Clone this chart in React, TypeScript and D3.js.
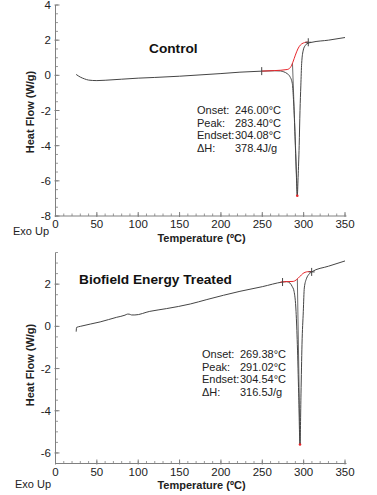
import React from "react";
import * as d3 from "d3";

// ---- Data ----
const xTicks = [0, 50, 100, 150, 200, 250, 300, 350];

const controlYTicks = [-8, -6, -4, -2, 0, 2, 4];
const treatedYTicks = [-6, -4, -2, 0, 2];

const controlTemp = [25, 30, 35, 40, 50, 60, 80, 100, 120, 150, 200, 223, 250, 265, 272, 276, 280, 283.5, 286.3, 287.5, 288.4, 290, 291.3, 292.3, 293.3, 294.6, 295.6, 296.6, 297.6, 299.6, 302, 304, 310, 330, 350];
const controlFlow = [0.05, -0.1, -0.2, -0.27, -0.3, -0.28, -0.22, -0.16, -0.12, -0.05, 0.1, 0.18, 0.24, 0.26, 0.25, 0.2, 0.1, -0.08, -0.46, -1.2, -2, -4, -5.8, -6.85, -5.8, -4, -2, -0.6, 0.68, 1.44, 1.7, 1.8, 1.88, 2.0, 2.15];

const controlBaseTemp = [249, 265, 280, 284, 287, 290, 293, 296, 298, 301, 305];
const controlBaseFlow = [0.24, 0.27, 0.33, 0.45, 0.75, 1.15, 1.5, 1.72, 1.8, 1.86, 1.9];

const controlPeakLineTemp = [286.5, 292.3];
const controlPeakLineFlow = [0.7, -6.85];

const controlOnset = { temp: 249.3, flow: 0.24 };
const controlEndset = { temp: 305.6, flow: 1.88 };

const treatedTemp = [25, 25.5, 30, 54, 74, 84, 87, 89, 92, 96, 114, 134, 163, 183, 223, 250, 274.7, 279.5, 283.5, 286, 288.4, 290.8, 292.4, 294, 295.6, 296.8, 298, 299.6, 300.8, 303.7, 306, 309.7, 330, 350];
const treatedFlow = [-0.25, -0.05, 0, 0.21, 0.43, 0.53, 0.58, 0.58, 0.54, 0.54, 0.71, 0.84, 1.06, 1.27, 1.66, 1.88, 2.1, 2.12, 2.05, 1.9, 1.66, 0.71, -0.87, -3.2, -5.6, -3.2, -0.87, 0.71, 1.82, 2.29, 2.45, 2.58, 2.85, 3.1];

const treatedBaseTemp = [272, 280, 287.5, 291, 295.6, 299, 301.7, 305, 309.7];
const treatedBaseFlow = [2.1, 2.12, 2.13, 2.2, 2.37, 2.5, 2.56, 2.59, 2.6];

const treatedPeakLineTemp = [292.4, 295.6];
const treatedPeakLineFlow = [2.25, -5.6];

const treatedOnset = { temp: 274.5, flow: 2.1 };
const treatedEndset = { temp: 309.7, flow: 2.58 };

const statLabels = ["Onset:", "Peak:", "Endset:", "\u0394H:"];
const controlStats = ["246.00\u00B0C", "283.40\u00B0C", "304.08\u00B0C", "378.4J/g"];
const treatedStats = ["269.38\u00B0C", "291.02\u00B0C", "304.54\u00B0C", "316.5J/g"];

const FONT = "'Liberation Sans', Arial, Helvetica, sans-serif";
const AXIS = "#808080";
const TEXT = "#222";
const CURVE = "#454545";
const RED = "#e8262b";

type PanelProps = {
  top: number;
  bottom: number;
  yDomain: [number, number];
  yTicks: number[];
  temp: number[];
  flow: number[];
  baseTemp: number[];
  baseFlow: number[];
  peakTemp: number[];
  peakFlow: number[];
  onset: { temp: number; flow: number };
  endset: { temp: number; flow: number };
  title: string;
  titleX: number;
  titleY: number;
  stats: string[];
  statX: number;
  valX: number;
  statY: number;
  xLabelY: number;
  xTitleY: number;
  yTitleY: number;
  exoY: number;
  exoX: number;
};

function Panel(p: PanelProps) {
  const x = d3.scaleLinear().domain([0, 350]).range([55.5, 345]);
  const y = d3.scaleLinear().domain(p.yDomain).range([p.bottom, p.top]);
  const axisX = 55.5;

  const line = d3
    .line<[number, number]>()
    .x((d) => x(d[0]))
    .y((d) => y(d[1]))
    .curve(d3.curveMonotoneX);

  const curvePts = p.temp.map((t, i) => [t, p.flow[i]] as [number, number]);
  const basePts = p.baseTemp.map((t, i) => [t, p.baseFlow[i]] as [number, number]);
  const peakPts = p.peakTemp.map((t, i) => [t, p.peakFlow[i]] as [number, number]);

  const minorY = d3.range(p.yDomain[0], p.yDomain[1] + 0.001, 0.5);
  const minorX = d3.range(0, 351, 10);
  const peakIdx = d3.minIndex(p.flow);

  return (
    <g>
      {/* axes */}
      <line x1={axisX} x2={axisX} y1={p.top} y2={p.bottom} stroke={AXIS} strokeWidth={1} />
      <line x1={axisX} x2={x(350) + 1.5} y1={p.bottom} y2={p.bottom} stroke={AXIS} strokeWidth={1} />
      {minorY.map((v, i) => (
        <line key={"my" + i} x1={axisX} x2={axisX + 2.5} y1={y(v)} y2={y(v)} stroke={AXIS} strokeWidth={0.8} />
      ))}
      {p.yTicks.map((v) => (
        <g key={"yt" + v}>
          <line x1={axisX - 1} x2={axisX + 4} y1={y(v)} y2={y(v)} stroke={AXIS} strokeWidth={1} />
          <text x={51} y={y(v) + 4} textAnchor="end" fontSize={11.5} fill={TEXT} fontFamily={FONT}>
            {v}
          </text>
        </g>
      ))}
      {minorX.map((v, i) => (
        <line key={"mx" + i} x1={x(v)} x2={x(v)} y1={p.bottom} y2={p.bottom - 2.5} stroke={AXIS} strokeWidth={0.8} />
      ))}
      {xTicks.map((v) => (
        <g key={"xt" + v}>
          <line x1={x(v)} x2={x(v)} y1={p.bottom + 1} y2={p.bottom - 4} stroke={AXIS} strokeWidth={1} />
          <text x={x(v)} y={p.xLabelY} textAnchor="middle" fontSize={11.5} fill={TEXT} fontFamily={FONT}>
            {v}
          </text>
        </g>
      ))}

      {/* axis titles */}
      <text
        transform={`translate(34,${p.yTitleY}) rotate(-90)`}
        textAnchor="middle"
        fontSize={11}
        fontWeight="bold"
        fill={TEXT}
        fontFamily={FONT}
      >
        Heat Flow (W/g)
      </text>
      <text x={201.5} y={p.xTitleY} textAnchor="middle" fontSize={11} fontWeight="bold" fill={TEXT} fontFamily={FONT}>
        Temperature (ºC)
      </text>
      <text x={p.exoX} y={p.exoY} fontSize={11} fill={TEXT} fontFamily={FONT}>
        Exo Up
      </text>

      {/* title */}
      <text x={p.titleX} y={p.titleY} fontSize={13.7} fontWeight="bold" fill="#111" fontFamily={FONT}>
        {p.title}
      </text>

      {/* curves */}
      <path d={line(peakPts) || ""} fill="none" stroke={CURVE} strokeWidth={0.8} />
      <path d={line(curvePts) || ""} fill="none" stroke={CURVE} strokeWidth={1} />
      <path d={line(basePts) || ""} fill="none" stroke={RED} strokeWidth={1} />
      <circle cx={x(p.temp[peakIdx])} cy={y(p.flow[peakIdx])} r={1.3} fill={RED} />

      {/* onset / endset markers */}
      <line x1={x(p.onset.temp)} x2={x(p.onset.temp)} y1={y(p.onset.flow) - 4} y2={y(p.onset.flow) + 4} stroke={CURVE} strokeWidth={1} />
      <line x1={x(p.endset.temp)} x2={x(p.endset.temp)} y1={y(p.endset.flow) - 4} y2={y(p.endset.flow) + 4} stroke={CURVE} strokeWidth={1} />
      <line x1={x(p.endset.temp) - 3} x2={x(p.endset.temp) + 3} y1={y(p.endset.flow)} y2={y(p.endset.flow)} stroke={CURVE} strokeWidth={1} />

      {/* stats */}
      {statLabels.map((l, i) => (
        <g key={"st" + i}>
          <text x={p.statX} y={p.statY + i * 12.7} fontSize={11} fill={TEXT} fontFamily={FONT}>
            {l}
          </text>
          <text x={p.valX} y={p.statY + i * 12.7} fontSize={11} fill={TEXT} fontFamily={FONT}>
            {p.stats[i]}
          </text>
        </g>
      ))}
    </g>
  );
}

export default function App() {
  return (
    <svg
      width={377}
      height={495}
      style={{ position: "absolute", left: 0, top: 0, background: "#fff" }}
    >
      <rect x={0} y={0} width={377} height={495} fill="#fff" />
      <Panel
        top={5}
        bottom={216}
        yDomain={[-8, 4]}
        yTicks={controlYTicks}
        temp={controlTemp}
        flow={controlFlow}
        baseTemp={controlBaseTemp}
        baseFlow={controlBaseFlow}
        peakTemp={controlPeakLineTemp}
        peakFlow={controlPeakLineFlow}
        onset={controlOnset}
        endset={controlEndset}
        title="Control"
        titleX={149}
        titleY={53}
        stats={controlStats}
        statX={197}
        valX={235}
        statY={114}
        xLabelY={228}
        xTitleY={242}
        yTitleY={112}
        exoX={13}
        exoY={235}
      />
      <Panel
        top={252.5}
        bottom={463.5}
        yDomain={[-6.5, 3.5]}
        yTicks={treatedYTicks}
        temp={treatedTemp}
        flow={treatedFlow}
        baseTemp={treatedBaseTemp}
        baseFlow={treatedBaseFlow}
        peakTemp={treatedPeakLineTemp}
        peakFlow={treatedPeakLineFlow}
        onset={treatedOnset}
        endset={treatedEndset}
        title="Biofield Energy Treated"
        titleX={79}
        titleY={284}
        stats={treatedStats}
        statX={202}
        valX={240}
        statY={358}
        xLabelY={476}
        xTitleY={489}
        yTitleY={365}
        exoX={15}
        exoY={488}
      />
    </svg>
  );
}
